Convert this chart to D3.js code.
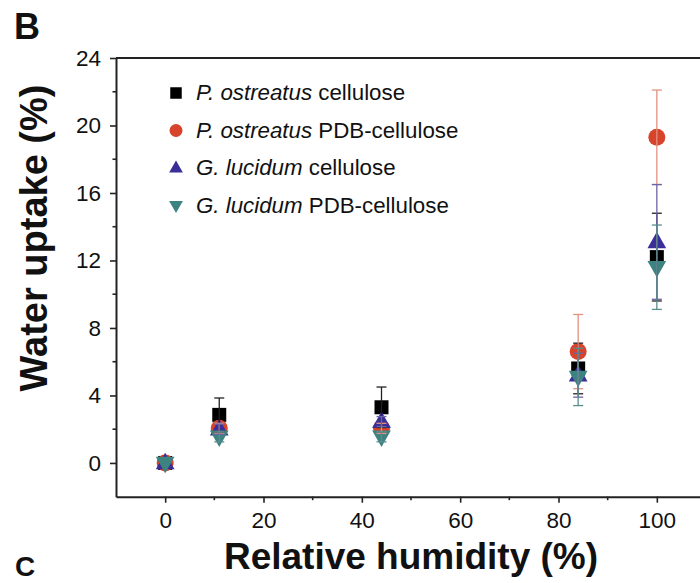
<!DOCTYPE html>
<html><head><meta charset="utf-8">
<script src="https://cdn.jsdelivr.net/npm/d3@7"></script>
<style>body{margin:0;background:#fff;} svg{display:block;font-family:"Liberation Sans",Arial,sans-serif;}</style>
</head><body><svg id="c" width="700" height="583"></svg>
<script>
const humidity = [0, 11, 44, 84, 100];
const poCell = [0, 2.85, 3.3, 5.6, 12.2];
const poCellErr = [0.1, 1.0, 1.2, 1.5, 2.6];
const poPdb = [0, 2.05, 2.05, 6.6, 19.3];
const poPdbErr = [0.1, 0.3, 0.3, 2.2, 2.8];
const glCell = [0, 2.0, 2.45, 5.2, 13.1];
const glCellErr = [0.1, 0.3, 0.3, 1.3, 3.4];
const glPdb = [0, 1.55, 1.55, 5.1, 11.6];
const glPdbErr = [0.1, 0.3, 0.3, 1.7, 2.5];
const seriesNames = ["P. ostreatus", "P. ostreatus", "G. lucidum", "G. lucidum"];
const seriesSuffix = [" cellulose", " PDB-cellulose", " cellulose", " PDB-cellulose"];
const xTicks = [0, 20, 40, 60, 80, 100];
const yTicks = [0, 4, 8, 12, 16, 20, 24];

const series = [
  {vals: poCell, err: poCellErr, shape: "square", fill: "#000000", ecol: "#222222"},
  {vals: poPdb, err: poPdbErr, shape: "circle", fill: "#d8432b", ecol: "#e3917f"},
  {vals: glCell, err: glCellErr, shape: "up", fill: "#3a2e98", ecol: "#6b64a6"},
  {vals: glPdb, err: glPdbErr, shape: "down", fill: "#3d8381", ecol: "#5d8c8e"}
];

const svg = d3.select("#c");
const x = d3.scaleLinear().domain([-10, 110]).range([116, 706]);
const y = d3.scaleLinear().domain([-2, 24]).range([496.7, 58]);

function shapePath(shape, s) {
  if (shape === "square") return `M${-s/2},${-s/2}h${s}v${s}h${-s}Z`;
  if (shape === "circle") { const r = s/2; return `M${r},0A${r},${r} 0 1,1 ${-r},0A${r},${r} 0 1,1 ${r},0Z`; }
  const w = s*1.25, h = s*1.1;
  if (shape === "up") return `M0,${-h*0.62}L${w/2},${h*0.38}L${-w/2},${h*0.38}Z`;
  return `M0,${h*0.62}L${w/2},${-h*0.38}L${-w/2},${-h*0.38}Z`;
}
const markerSize = {square: 14, circle: 17, up: 15, down: 15};

// frame top line
svg.append("line").attr("x1", x(-10)).attr("x2", x(110)).attr("y1", y(24)).attr("y2", y(24))
  .attr("stroke", "#222").attr("stroke-width", 2);

// axes
const yAxis = svg.append("g").attr("transform", `translate(${x(-10)},0)`)
  .call(d3.axisLeft(y).tickValues(yTicks).tickSize(6).tickSizeOuter(0).tickPadding(9));
const xAxis = svg.append("g").attr("transform", `translate(0,${y(-2)})`)
  .call(d3.axisBottom(x).tickValues(xTicks).tickSize(6).tickSizeOuter(0).tickPadding(9));
[yAxis, xAxis].forEach(g => {
  g.select(".domain").attr("stroke", "#222").attr("stroke-width", 2);
  g.selectAll(".tick line").attr("stroke", "#222").attr("stroke-width", 1.6);
  g.selectAll("text").attr("font-size", 22.5).attr("fill", "#111")
    .attr("font-family", "'Liberation Sans', Arial, sans-serif");
});
// minor ticks
const yMinor = d3.range(-2, 24, 4).filter(v => v > -2);
svg.append("g").selectAll("line").data(yMinor).join("line")
  .attr("x1", x(-10)).attr("x2", x(-10) - 3.5).attr("y1", d => y(d)).attr("y2", d => y(d))
  .attr("stroke", "#222").attr("stroke-width", 1.6);
const xMinor = [10, 30, 50, 70, 90];
svg.append("g").selectAll("line").data(xMinor).join("line")
  .attr("y1", y(-2)).attr("y2", y(-2) + 3.5).attr("x1", d => x(d)).attr("x2", d => x(d))
  .attr("stroke", "#222").attr("stroke-width", 1.6);

// markers
series.forEach(s => {
  svg.append("g").selectAll("path").data(humidity.map((h, i) => ({h, v: s.vals[i]}))).join("path")
    .attr("transform", d => `translate(${x(d.h)},${y(d.v)})`)
    .attr("d", shapePath(s.shape, markerSize[s.shape]))
    .attr("fill", s.fill);
});
// error bars on top
series.forEach(s => {
  const g = svg.append("g").attr("stroke", s.ecol).attr("stroke-width", 1.3).attr("fill", "none");
  humidity.forEach((h, i) => {
    const e = s.err[i];
    if (e < 0.2) return;
    const cx = x(h), lo = y(s.vals[i] - e), hi = y(s.vals[i] + e);
    g.append("line").attr("x1", cx).attr("x2", cx).attr("y1", lo).attr("y2", hi);
    g.append("line").attr("x1", cx - 5).attr("x2", cx + 5).attr("y1", lo).attr("y2", lo);
    g.append("line").attr("x1", cx - 5).attr("x2", cx + 5).attr("y1", hi).attr("y2", hi);
  });
});

// legend
const legendBase = [100, 137.5, 175, 212.5];
const legendSize = {square: 11.5, circle: 13, up: 11, down: 11};
series.forEach((s, i) => {
  svg.append("path").attr("transform", `translate(176,${legendBase[i] - 7})`)
    .attr("d", shapePath(s.shape, legendSize[s.shape])).attr("fill", s.fill);
  const t = svg.append("text").attr("x", 196).attr("y", legendBase[i]).attr("font-size", 22.3).attr("fill", "#111");
  t.append("tspan").attr("font-style", "italic").text(seriesNames[i]);
  t.append("tspan").text(seriesSuffix[i]);
});

// titles
svg.append("text").attr("x", (x(-10) + 706) / 2 - 0).attr("y", 569).attr("text-anchor", "middle")
  .attr("font-size", 37).attr("font-weight", "bold").attr("fill", "#111").text("Relative humidity (%)");
svg.append("text").attr("transform", "translate(47,238) rotate(-90)").attr("text-anchor", "middle")
  .attr("font-size", 38).attr("font-weight", "bold").attr("fill", "#111").text("Water uptake (%)");
svg.append("text").attr("x", 14).attr("y", 39).attr("font-size", 36).attr("font-weight", "bold").attr("fill", "#111").text("B");
svg.append("text").attr("x", 15).attr("y", 576).attr("font-size", 28).attr("font-weight", "bold").attr("fill", "#111").text("C");
</script></body></html>
